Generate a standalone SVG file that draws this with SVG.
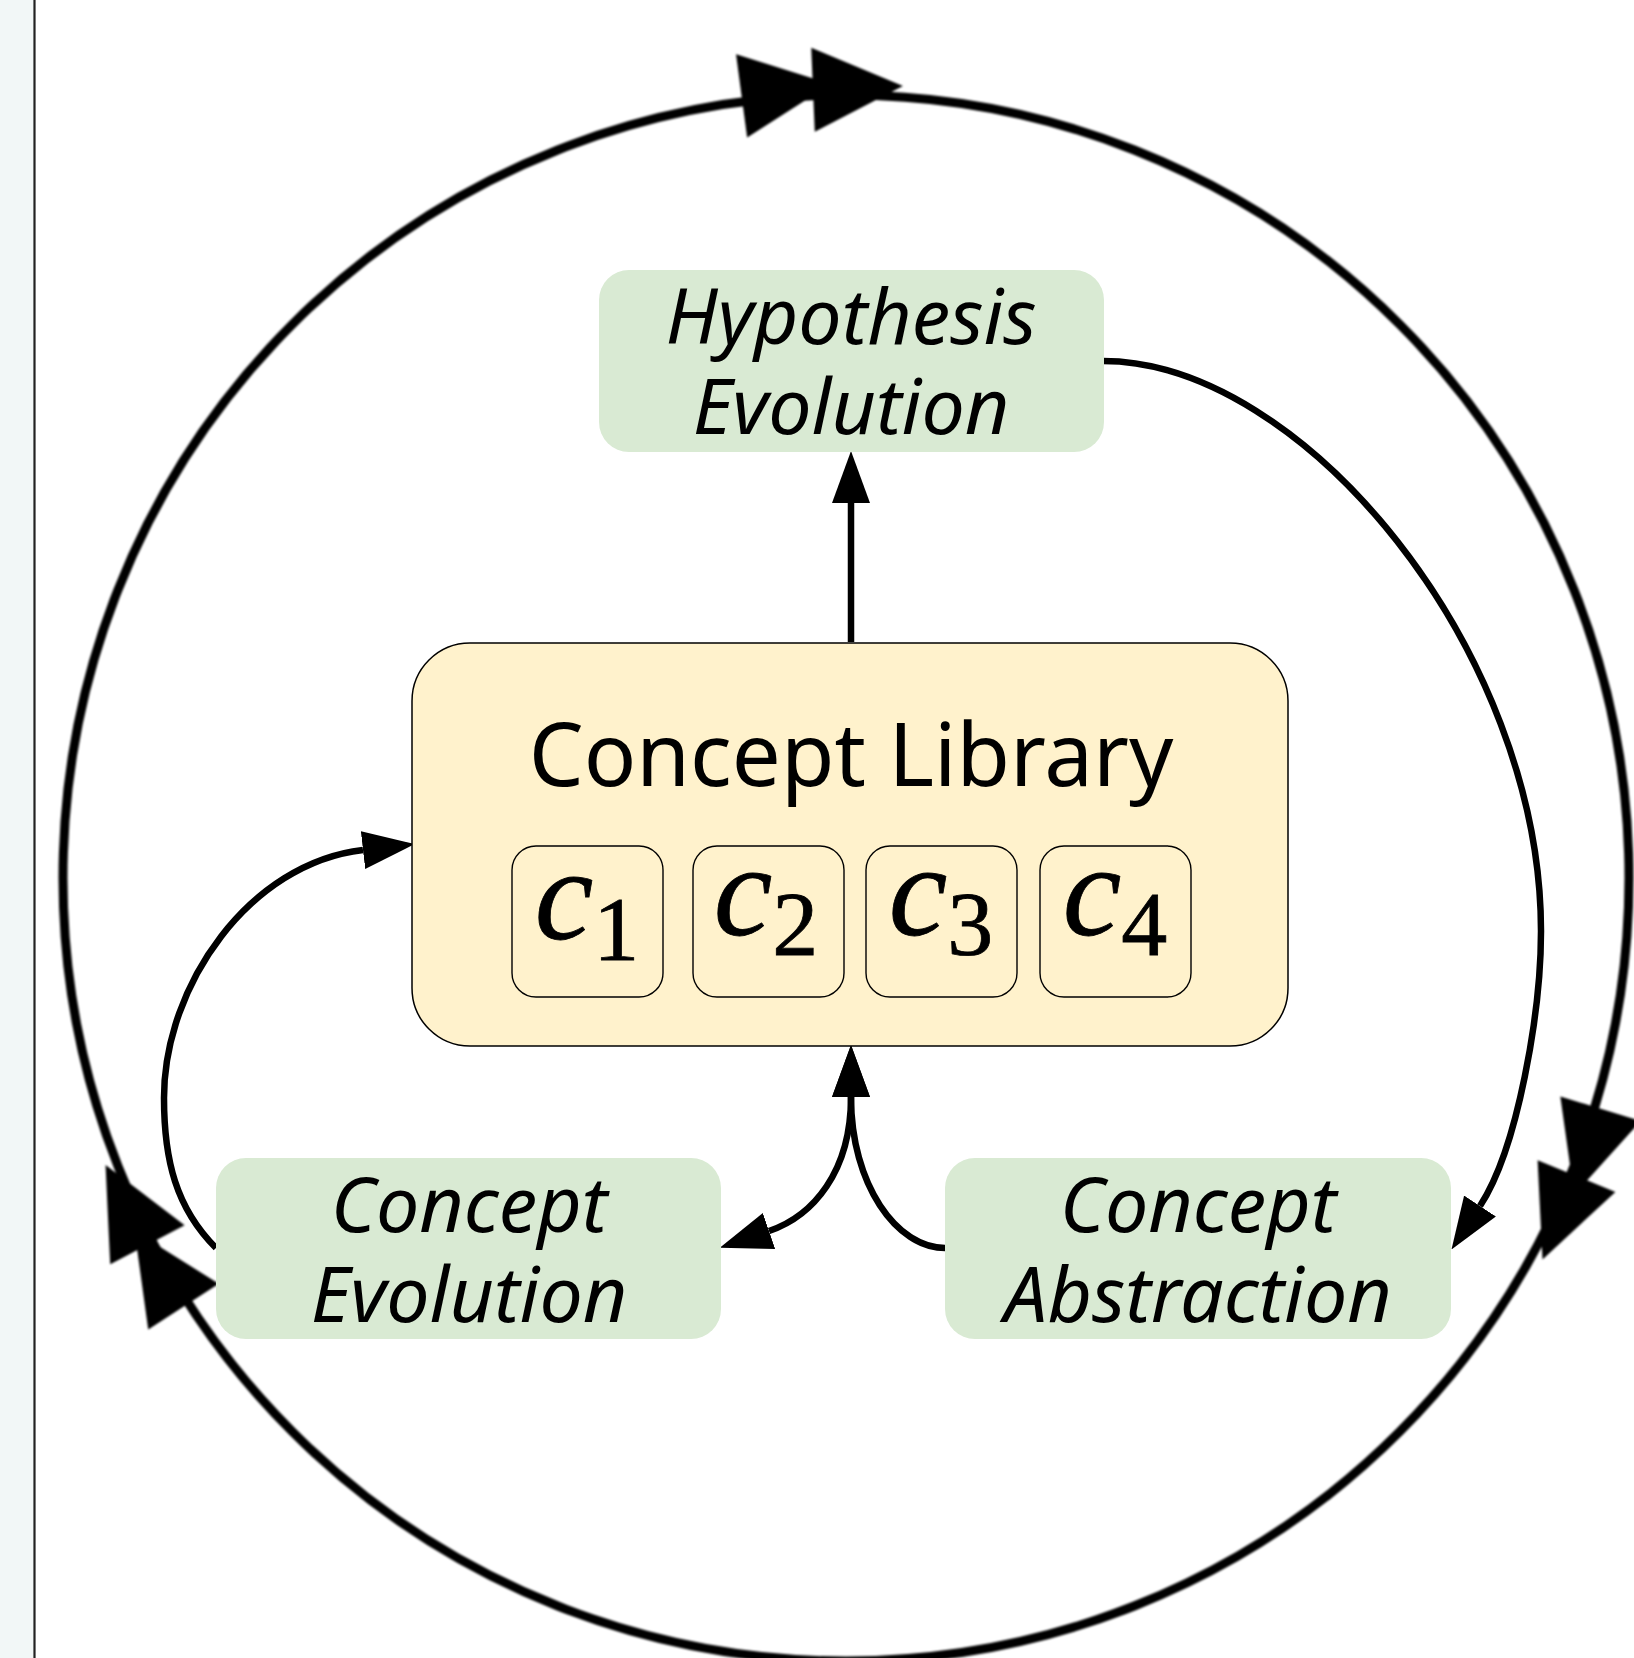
<svg xmlns="http://www.w3.org/2000/svg" width="1634" height="1658" viewBox="0 0 1634 1658">
  <style>
    .lbl { font-family: "Noto Sans", "Open Sans", sans-serif; font-style: italic; font-size: 77px; fill: #000; text-anchor: middle; }
    .title { font-family: "Noto Sans", "Open Sans", sans-serif; font-size: 87px; fill: #000; text-anchor: middle; }
    .green { fill: #d9ead3; }
    .lib { fill: #fff2cc; stroke: #000; stroke-width: 1.5; }
    .cell { fill: #fff2cc; stroke: #000; stroke-width: 1.4; }
    .edge { fill: none; stroke: #000; stroke-width: 6.5; }
    .ring { fill: none; stroke: #000; stroke-width: 9; }
  </style>
  <defs>
    <marker id="tip" markerUnits="userSpaceOnUse" markerWidth="52" markerHeight="38" viewBox="0 0 52 38" refX="0" refY="19" orient="auto-start-reverse">
      <path d="M0,0 L52,19 L0,38 z" fill="#000"/>
    </marker>
    <polygon id="bigtip" points="0,-42 90,0 0,42" fill="#000"/>
    <filter id="soft" x="-5%" y="-5%" width="110%" height="110%">
      <feGaussianBlur stdDeviation="1.3"/>
    </filter>
  </defs>

  <!-- side panel -->
  <rect x="0" y="0" width="34" height="1658" fill="#f2f7f7"/>
  <line x1="34.5" y1="0" x2="34.5" y2="1658" stroke="#222" stroke-width="2.2"/>

  <!-- outer cycle with paired arrowheads -->
  <g id="cycle" filter="url(#soft)">
    <circle class="ring" cx="846" cy="878" r="783"/>
    <use href="#bigtip" transform="translate(741.6,95.9) rotate(352.4)"/>
    <use href="#bigtip" transform="translate(813,89.7) rotate(357.6)"/>
    <use href="#bigtip" transform="translate(1600.5,1108.7) rotate(107)"/>
    <use href="#bigtip" transform="translate(1576.5,1176.1) rotate(112.2)"/>
    <use href="#bigtip" transform="translate(183.5,1306.6) rotate(237.1)"/>
    <use href="#bigtip" transform="translate(147.4,1244.8) rotate(242.3)"/>
  </g>

  <!-- connectors -->
  <g id="edges">
    <path class="edge" d="M851,642 L851,503" marker-end="url(#tip)"/>
    <path class="edge" d="M1103,361 C1303,361 1541,651 1541,931 C1541,1011 1518,1148 1480,1206" marker-end="url(#tip)"/>
    <path class="edge" d="M216,1248 C176,1208 164,1160 164,1098 C164,985 250,863 363,850" marker-end="url(#tip)"/>
    <path class="edge" d="M945,1248 C897,1248 851,1185 851,1097" marker-end="url(#tip)"/>
    <path class="edge" d="M769,1231 C813,1216 851,1172 851,1097" marker-start="url(#tip)" marker-end="url(#tip)"/>
  </g>

  <!-- nodes -->
  <g id="hypothesis-evolution">
    <rect class="green" x="599" y="270" width="505" height="182" rx="30"/>
    <text class="lbl"><tspan x="851" y="344">Hypothesis</tspan><tspan x="851" y="434">Evolution</tspan></text>
  </g>

  <g id="concept-library">
    <rect class="lib" x="412" y="643" width="876" height="403" rx="58"/>
    <text class="title" x="851" y="786">Concept Library</text>
    <g id="c1">
      <rect class="cell" x="512" y="846" width="151" height="151" rx="24"/>
      <text x="587" y="939" font-family="'Liberation Serif', 'DejaVu Serif', serif" text-anchor="middle" fill="#000" stroke="#000" stroke-width="0.8"><tspan font-style="italic" font-size="132">c</tspan><tspan font-size="92" dy="21">1</tspan></text>
    </g>
    <g id="c2">
      <rect class="cell" x="693" y="846" width="151" height="151" rx="24"/>
      <text x="766" y="935" font-family="'Liberation Serif', 'DejaVu Serif', serif" text-anchor="middle" fill="#000" stroke="#000" stroke-width="0.8"><tspan font-style="italic" font-size="132">c</tspan><tspan font-size="92" dy="20">2</tspan></text>
    </g>
    <g id="c3">
      <rect class="cell" x="866" y="846" width="151" height="151" rx="24"/>
      <text x="941" y="935" font-family="'Liberation Serif', 'DejaVu Serif', serif" text-anchor="middle" fill="#000" stroke="#000" stroke-width="0.8"><tspan font-style="italic" font-size="132">c</tspan><tspan font-size="92" dy="20">3</tspan></text>
    </g>
    <g id="c4">
      <rect class="cell" x="1040" y="846" width="151" height="151" rx="24"/>
      <text x="1115" y="935" font-family="'Liberation Serif', 'DejaVu Serif', serif" text-anchor="middle" fill="#000" stroke="#000" stroke-width="0.8"><tspan font-style="italic" font-size="132">c</tspan><tspan font-size="92" dy="20">4</tspan></text>
    </g>
  </g>

  <g id="concept-evolution">
    <rect class="green" x="216" y="1158" width="505" height="181" rx="30"/>
    <text class="lbl"><tspan x="469" y="1232">Concept</tspan><tspan x="469" y="1322">Evolution</tspan></text>
  </g>

  <g id="concept-abstraction">
    <rect class="green" x="945" y="1158" width="506" height="181" rx="30"/>
    <text class="lbl"><tspan x="1198" y="1232">Concept</tspan><tspan x="1198" y="1322">Abstraction</tspan></text>
  </g>
</svg>
